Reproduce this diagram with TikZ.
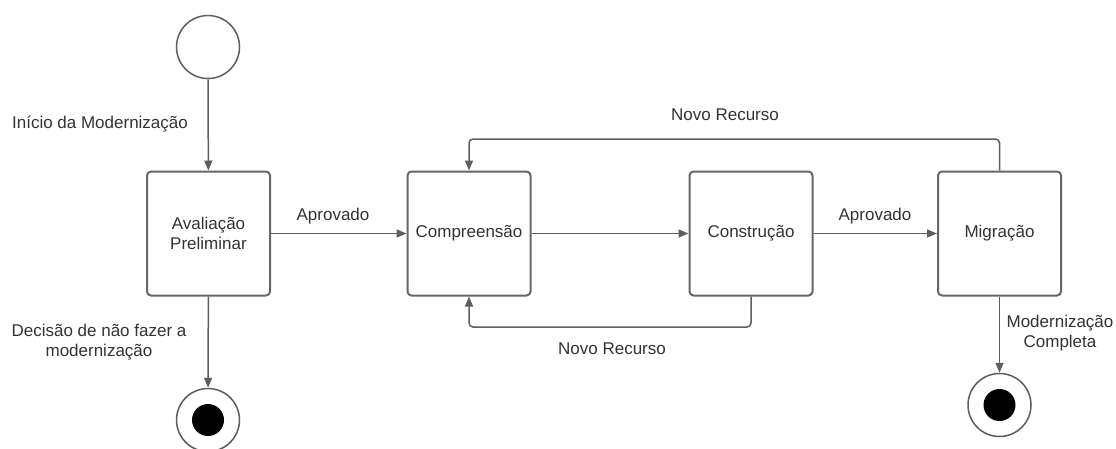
\documentclass[tikz,border=0pt]{standalone}
\usepackage{fontspec}
\setmainfont{Liberation Sans}
\usetikzlibrary{arrows.meta}
\definecolor{linegray}{HTML}{5E5E5E}
\definecolor{boxgray}{HTML}{666666}
\definecolor{txtgray}{HTML}{333333}
\tikzset{
  state/.style={draw=boxgray, line width=2pt, rounded corners=4pt,
    minimum width=123pt, minimum height=124pt, inner sep=0pt,
    align=center, text=txtgray, font=\fontsize{17}{20}\selectfont},
  lbl/.style={text=txtgray, align=center, inner sep=0pt,
    font=\fontsize{17}{20}\selectfont},
  initstate/.style={circle, draw=linegray, line width=1.5pt,
    minimum size=63pt, inner sep=0pt},
  finalring/.style={circle, draw=linegray, line width=1.5pt,
    minimum size=63pt, inner sep=0pt},
  finaldot/.style={circle, fill=black, minimum size=32pt, inner sep=0pt},
  conn/.style={draw=linegray, line width=1.5pt,
    -{Triangle[length=10pt,width=8pt]}},
}
\begin{document}
\begin{tikzpicture}[x=1pt, y=-1pt]
\useasboundingbox[fill=white] (0,0) rectangle (1116,448);

% states
\node[initstate] (start) at (208,47) {};
\node[state] (aval) at (208.5,233.5) {Avaliação\\Preliminar};
\node[state] (comp) at (469,233.5) {Compreensão};
\node[state] (cons) at (751,233.5) {Construção};
\node[state] (mig)  at (999.5,233.5) {Migração};

% final states
\node[finalring] (endA) at (208,420) {};
\node[finaldot]  (endAdot) at (endA) {};
\node[finalring] (endB) at (999.5,405) {};
\node[finaldot]  (endBdot) at (endB) {};

% loop levels
\coordinate (toploop) at (0,139);
\coordinate (botloop) at (0,327);

% transitions
\draw[conn] (start) -- (aval);
\draw[conn] (aval) -- (comp);
\draw[conn] (comp) -- (cons);
\draw[conn] (cons) -- (mig);
\draw[conn] (aval) -- (endA);
\draw[conn] (mig) -- (endB);
\draw[conn, rounded corners=4pt] (mig.north) |- (toploop -| comp.north) -- (comp.north);
\draw[conn, rounded corners=4pt] (cons.south) |- (botloop -| comp.south) -- (comp.south);

% transition labels
\node[lbl] (lInicio) at (100,124) {Início da Modernização};
\node[lbl] (lAprov1) at (333,216) {Aprovado};
\node[lbl] (lAprov2) at (875,216) {Aprovado};
\node[lbl] (lNovo1) at (725,115) {Novo Recurso};
\node[lbl] (lNovo2) at (612,349) {Novo Recurso};
\node[lbl] (lDecisao) at (99,342) {Decisão de não fazer a\\modernização};
\node[lbl] (lFim) at (1060,333) {Modernização\\Completa};
\end{tikzpicture}
\end{document}
